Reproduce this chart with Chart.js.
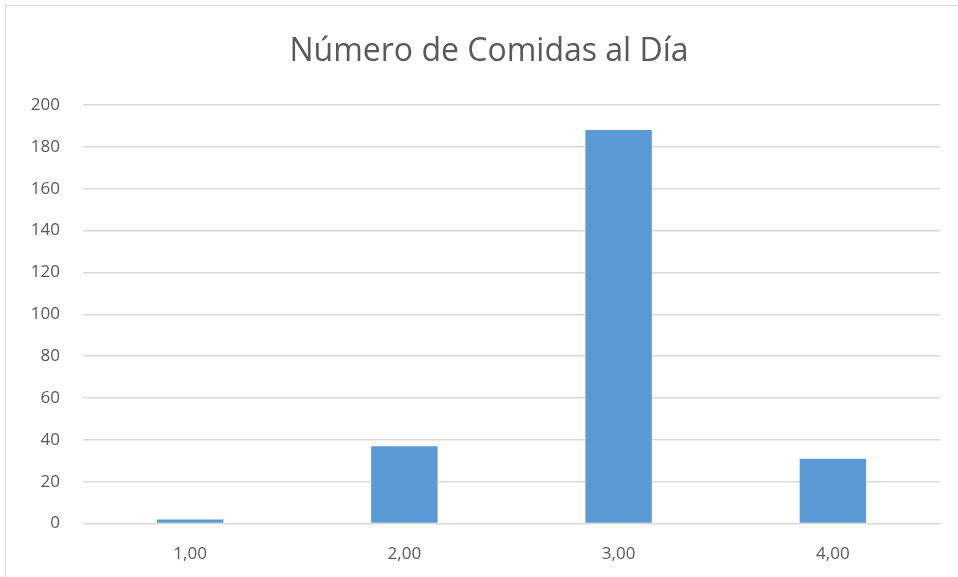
<!DOCTYPE html>
<html lang="es">
<head>
    <meta charset="UTF-8">
    <title>Número de Comidas al Día</title>
    <script src="https://cdn.jsdelivr.net/npm/chart.js"></script>
    <style>
        body {
            margin: 0;
            background: #ffffff;
            overflow: hidden;
        }
        .chart-box {
            position: absolute;
            left: 5px;
            top: 5px;
            width: 966px;
            height: 600px;
            border: 1px solid #d9d9d9;
        }
        canvas {
            display: block;
        }
    </style>
</head>
<body>
    <div class="chart-box">
        <canvas id="myChart" width="966" height="600"></canvas>
    </div>

    <script>
        // Datos del gráfico
        const chartTitle = 'Número de Comidas al Día';
        const categories = ['1,00', '2,00', '3,00', '4,00'];
        const comidas = [2, 37, 188, 31];
        const yTicks = [0, 20, 40, 60, 80, 100, 120, 140, 160, 180, 200];

        // título centrado sobre todo el recuadro (como en Excel)
        const centeredTitle = {
            id: 'centeredTitle',
            afterDraw(chart) {
                const c = chart.ctx;
                c.save();
                c.font = '32px "Open Sans"';
                c.fillStyle = '#595959';
                c.textAlign = 'center';
                c.textBaseline = 'middle';
                c.fillText(chartTitle, chart.width / 2, 46);
                c.restore();
            }
        };

        const ctx = document.getElementById('myChart').getContext('2d');
        new Chart(ctx, {
            type: 'bar',
            data: {
                labels: categories,
                datasets: [{
                    label: 'Número de Comidas',
                    data: comidas,
                    backgroundColor: '#5b9bd5',
                    borderWidth: 0,
                    categoryPercentage: 1,
                    barPercentage: 0.31
                }]
            },
            options: {
                responsive: false,
                animation: false,
                devicePixelRatio: 1,
                layout: {
                    padding: { left: 4, right: 32, top: 99, bottom: 30 }
                },
                plugins: {
                    legend: { display: false },
                    tooltip: { enabled: false },
                    title: { display: false }
                },
                scales: {
                    x: {
                        grid: { display: false },
                        border: { color: '#d9d9d9', width: 1 },
                        ticks: {
                            color: '#595959',
                            font: { family: 'Open Sans', size: 17 },
                            padding: 12
                        }
                    },
                    y: {
                        min: 0,
                        max: 200,
                        afterBuildTicks: axis => {
                            axis.ticks = yTicks.map(v => ({ value: v }));
                        },
                        afterFit: axis => {
                            axis.width = 73;
                        },
                        grid: { color: '#d9d9d9', lineWidth: 1.5, drawTicks: false },
                        border: { display: false },
                        ticks: {
                            color: '#595959',
                            font: { family: 'Open Sans', size: 17 },
                            padding: 23
                        }
                    }
                }
            },
            plugins: [centeredTitle]
        });
    </script>
</body>
</html>
